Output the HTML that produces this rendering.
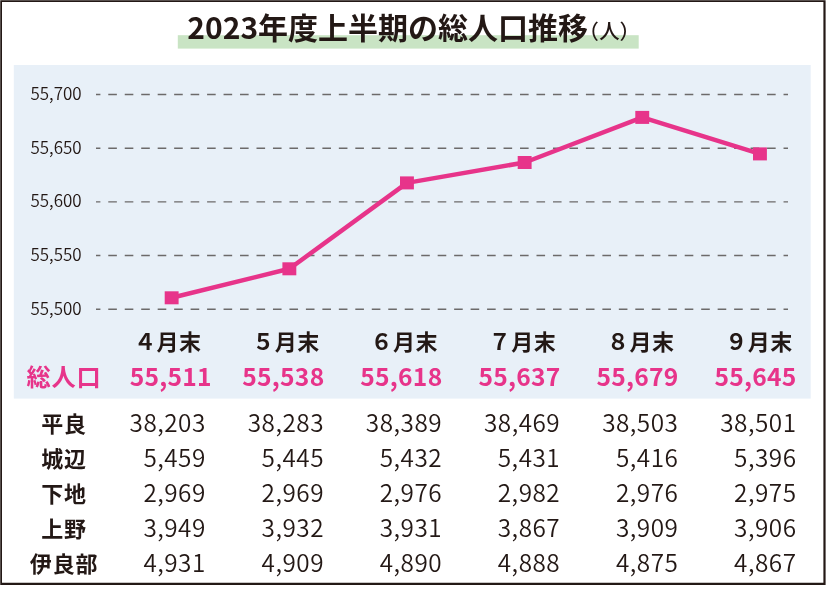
<!DOCTYPE html>
<html lang="ja"><head><meta charset="utf-8"><title>2023年度上半期の総人口推移</title>
<style>html,body{margin:0;padding:0;background:#fff}body{width:826px;height:599px;overflow:hidden}svg{display:block}text{font-family:"Noto Sans CJK JP", "Liberation Sans", sans-serif;fill:#231815}.pa{font-feature-settings:"palt"}.fw{font-feature-settings:"fwid"}.b{font-weight:700}.l{font-weight:350}.m{font-weight:500}.p{fill:#e7348a}</style></head><body>
<svg width="826" height="599" viewBox="0 0 826 599">
<rect x="0" y="0" width="826" height="599" fill="#fff"/>
<path fill="#231815" fill-rule="evenodd" d="M0.25 0.3H825.6V584.9H0.25Z M2 2V582.85H823.4V2Z"/>
<rect x="177.8" y="35.2" width="460.9" height="13.4" fill="#c9e4c4"/>
<text class="b" x="187.3" y="38.7" font-size="30">2023年度上半期の総人口推移</text>
<text class="m pa" x="587.9" y="38.6" font-size="20.4" dx="0 1.2 0.6">（人）</text>
<rect x="13.8" y="65" width="796.9" height="333.6" fill="#e8f0f8"/>
<line x1="96.0" y1="94.50" x2="788" y2="94.50" stroke="#6c6a6a" stroke-width="1.4" stroke-dasharray="8.6 7.87" stroke-dashoffset="4.2"/>
<text class="l" x="30.4" y="99.90" font-size="17">55,700</text>
<line x1="96.0" y1="148.18" x2="788" y2="148.18" stroke="#6c6a6a" stroke-width="1.4" stroke-dasharray="8.6 7.87" stroke-dashoffset="4.2"/>
<text class="l" x="30.4" y="153.58" font-size="17">55,650</text>
<line x1="96.0" y1="201.86" x2="788" y2="201.86" stroke="#6c6a6a" stroke-width="1.4" stroke-dasharray="8.6 7.87" stroke-dashoffset="4.2"/>
<text class="l" x="30.4" y="207.26" font-size="17">55,600</text>
<line x1="96.0" y1="255.54" x2="788" y2="255.54" stroke="#6c6a6a" stroke-width="1.4" stroke-dasharray="8.6 7.87" stroke-dashoffset="4.2"/>
<text class="l" x="30.4" y="260.94" font-size="17">55,550</text>
<line x1="96.0" y1="309.22" x2="788" y2="309.22" stroke="#6c6a6a" stroke-width="1.4" stroke-dasharray="8.6 7.87" stroke-dashoffset="4.2"/>
<text class="l" x="30.4" y="314.62" font-size="17">55,500</text>
<polyline fill="none" stroke="#e7348a" stroke-width="4.5" stroke-linejoin="round" points="171.7,297.8 289.4,268.8 407.0,182.9 524.7,162.5 642.3,117.4 760.0,153.9"/>
<rect x="164.7" y="291.3" width="13.9" height="13" fill="#e7348a"/>
<rect x="282.4" y="262.3" width="13.9" height="13" fill="#e7348a"/>
<rect x="400.0" y="176.4" width="13.9" height="13" fill="#e7348a"/>
<rect x="517.7" y="156.0" width="13.9" height="13" fill="#e7348a"/>
<rect x="635.3" y="110.9" width="13.9" height="13" fill="#e7348a"/>
<rect x="753.0" y="147.4" width="13.9" height="13" fill="#e7348a"/>
<text class="b fw" x="201.5" y="350.2" font-size="22" letter-spacing="0.5" text-anchor="end">4月末</text>
<text class="b p" x="211.7" y="385.5" font-size="24.6" letter-spacing="0.25" text-anchor="end">55,511</text>
<text class="b fw" x="319.8" y="350.2" font-size="22" letter-spacing="0.5" text-anchor="end">5月末</text>
<text class="b p" x="324.4" y="385.5" font-size="24.6" letter-spacing="0.25" text-anchor="end">55,538</text>
<text class="b fw" x="438.0" y="350.2" font-size="22" letter-spacing="0.5" text-anchor="end">6月末</text>
<text class="b p" x="442.4" y="385.5" font-size="24.6" letter-spacing="0.25" text-anchor="end">55,618</text>
<text class="b fw" x="556.2" y="350.2" font-size="22" letter-spacing="0.5" text-anchor="end">7月末</text>
<text class="b p" x="560.5" y="385.5" font-size="24.6" letter-spacing="0.25" text-anchor="end">55,637</text>
<text class="b fw" x="674.5" y="350.2" font-size="22" letter-spacing="0.5" text-anchor="end">8月末</text>
<text class="b p" x="678.5" y="385.5" font-size="24.6" letter-spacing="0.25" text-anchor="end">55,679</text>
<text class="b fw" x="792.8" y="350.2" font-size="22" letter-spacing="0.5" text-anchor="end">9月末</text>
<text class="b p" x="796.5" y="385.5" font-size="24.6" letter-spacing="0.25" text-anchor="end">55,645</text>
<text class="b p" x="63.9" y="385.5" font-size="24.2" letter-spacing="0.8" text-anchor="middle">総人口</text>
<text class="b" x="64.1" y="432.3" font-size="22" letter-spacing="0.9" text-anchor="middle">平良</text>
<text class="l" x="205.8" y="432.3" font-size="24.3" letter-spacing="0.5" text-anchor="end">38,203</text>
<text class="l" x="324.0" y="432.3" font-size="24.3" letter-spacing="0.5" text-anchor="end">38,283</text>
<text class="l" x="442.1" y="432.3" font-size="24.3" letter-spacing="0.5" text-anchor="end">38,389</text>
<text class="l" x="560.2" y="432.3" font-size="24.3" letter-spacing="0.5" text-anchor="end">38,469</text>
<text class="l" x="678.4" y="432.3" font-size="24.3" letter-spacing="0.5" text-anchor="end">38,503</text>
<text class="l" x="796.5" y="432.3" font-size="24.3" letter-spacing="0.5" text-anchor="end">38,501</text>
<text class="b" x="64.1" y="467.2" font-size="22" letter-spacing="0.9" text-anchor="middle">城辺</text>
<text class="l" x="205.8" y="467.2" font-size="24.3" letter-spacing="0.5" text-anchor="end">5,459</text>
<text class="l" x="324.0" y="467.2" font-size="24.3" letter-spacing="0.5" text-anchor="end">5,445</text>
<text class="l" x="442.1" y="467.2" font-size="24.3" letter-spacing="0.5" text-anchor="end">5,432</text>
<text class="l" x="560.2" y="467.2" font-size="24.3" letter-spacing="0.5" text-anchor="end">5,431</text>
<text class="l" x="678.4" y="467.2" font-size="24.3" letter-spacing="0.5" text-anchor="end">5,416</text>
<text class="l" x="796.5" y="467.2" font-size="24.3" letter-spacing="0.5" text-anchor="end">5,396</text>
<text class="b" x="64.1" y="502.1" font-size="22" letter-spacing="0.9" text-anchor="middle">下地</text>
<text class="l" x="205.8" y="502.1" font-size="24.3" letter-spacing="0.5" text-anchor="end">2,969</text>
<text class="l" x="324.0" y="502.1" font-size="24.3" letter-spacing="0.5" text-anchor="end">2,969</text>
<text class="l" x="442.1" y="502.1" font-size="24.3" letter-spacing="0.5" text-anchor="end">2,976</text>
<text class="l" x="560.2" y="502.1" font-size="24.3" letter-spacing="0.5" text-anchor="end">2,982</text>
<text class="l" x="678.4" y="502.1" font-size="24.3" letter-spacing="0.5" text-anchor="end">2,976</text>
<text class="l" x="796.5" y="502.1" font-size="24.3" letter-spacing="0.5" text-anchor="end">2,975</text>
<text class="b" x="64.1" y="537.0" font-size="22" letter-spacing="0.9" text-anchor="middle">上野</text>
<text class="l" x="205.8" y="537.0" font-size="24.3" letter-spacing="0.5" text-anchor="end">3,949</text>
<text class="l" x="324.0" y="537.0" font-size="24.3" letter-spacing="0.5" text-anchor="end">3,932</text>
<text class="l" x="442.1" y="537.0" font-size="24.3" letter-spacing="0.5" text-anchor="end">3,931</text>
<text class="l" x="560.2" y="537.0" font-size="24.3" letter-spacing="0.5" text-anchor="end">3,867</text>
<text class="l" x="678.4" y="537.0" font-size="24.3" letter-spacing="0.5" text-anchor="end">3,909</text>
<text class="l" x="796.5" y="537.0" font-size="24.3" letter-spacing="0.5" text-anchor="end">3,906</text>
<text class="b" x="64.1" y="571.9" font-size="22" letter-spacing="0.9" text-anchor="middle">伊良部</text>
<text class="l" x="205.8" y="571.9" font-size="24.3" letter-spacing="0.5" text-anchor="end">4,931</text>
<text class="l" x="324.0" y="571.9" font-size="24.3" letter-spacing="0.5" text-anchor="end">4,909</text>
<text class="l" x="442.1" y="571.9" font-size="24.3" letter-spacing="0.5" text-anchor="end">4,890</text>
<text class="l" x="560.2" y="571.9" font-size="24.3" letter-spacing="0.5" text-anchor="end">4,888</text>
<text class="l" x="678.4" y="571.9" font-size="24.3" letter-spacing="0.5" text-anchor="end">4,875</text>
<text class="l" x="796.5" y="571.9" font-size="24.3" letter-spacing="0.5" text-anchor="end">4,867</text>
</svg></body></html>
